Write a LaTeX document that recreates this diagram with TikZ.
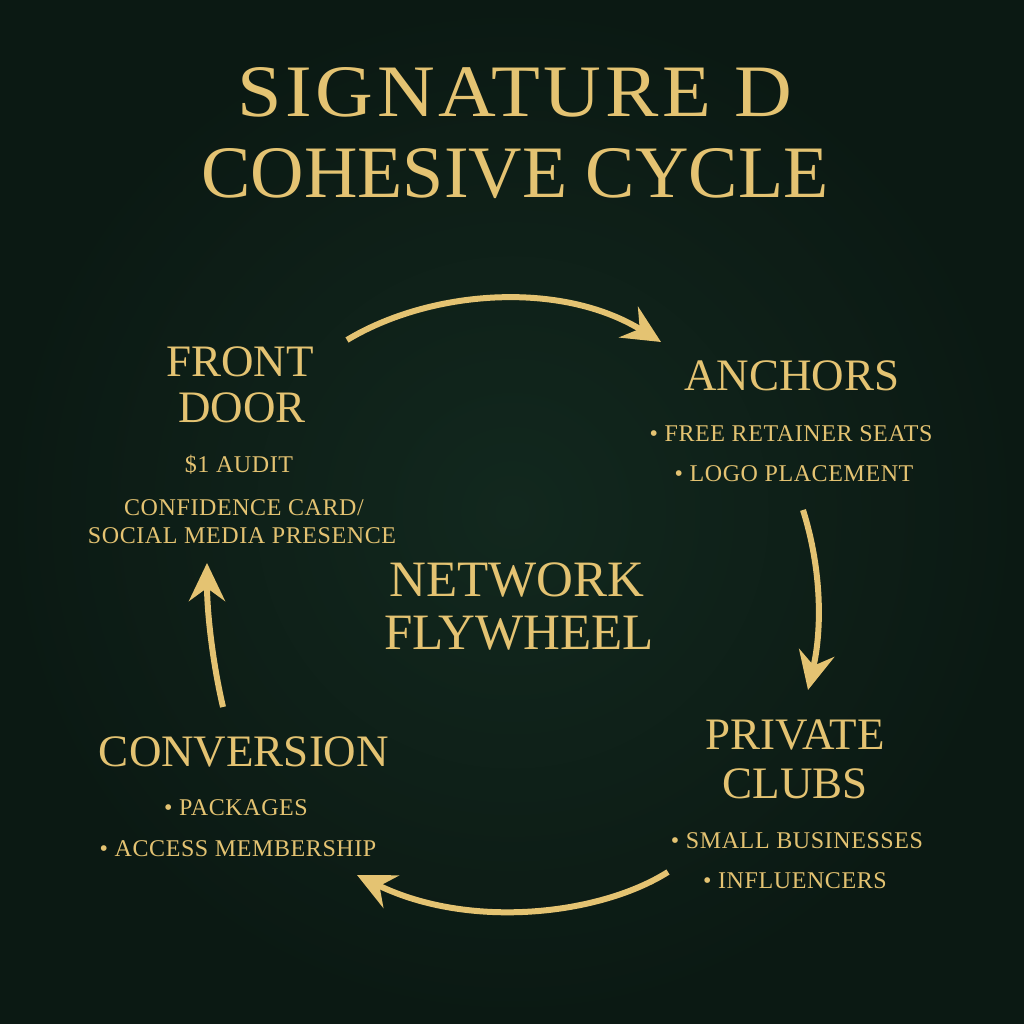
\documentclass[tikz,border=0pt]{standalone}
\usepackage{fontspec}
\setmainfont{Liberation Serif}
\newfontfamily\widetitle[FakeStretch=1.08,LetterSpace=5]{Liberation Serif}
\newfontfamily\itemfont[LetterSpace=2.5]{Liberation Serif}
\usetikzlibrary{arrows.meta}
\definecolor{bggreen}{RGB}{18,40,30}
\definecolor{bgdark}{RGB}{11,25,19}
\definecolor{gold}{RGB}{228,195,114}

\begin{document}
\begin{tikzpicture}
[x=1pt,y=1pt,
  titledecorate/.style={anchor=base,inner sep=0pt,text=gold,font=\fontsize{74}{74}\selectfont},%
  headdecorate/.style={anchor=base,inner sep=0pt,text=gold,font=\fontsize{45}{45}\selectfont},%
  hubdecorate/.style={anchor=base,inner sep=0pt,text=gold,font=\fontsize{51}{51}\selectfont},%
  itemdecorate/.style={anchor=base,inner sep=0pt,text=gold,font=\itemfont\fontsize{24}{24}\selectfont},%
  linedecorate/.style={draw=gold,line width=6pt,-{Stealth[length=38pt,width=36pt,inset=13pt]}}]
%% background
\shade[inner color=bggreen,outer color=bgdark] (0,0) rectangle (1024,1024);
\useasboundingbox (0,0) rectangle (1024,1024);
%% title
\node (title1) at (515,907) [titledecorate] {\widetitle SIGNATURE D};
\node (title2) at (515,826) [titledecorate] {COHESIVE CYCLE};
%% stage names
\foreach \nodename/\x/\y/\words in {front/240/647/FRONT, door/242/601/DOOR,
  anchors/792/633/ANCHORS, private/795/274/PRIVATE, clubs/795/225/CLUBS,
  conversion/244/257/CONVERSION} {
  \node (\nodename) at (\x,\y) [headdecorate] {\words};
}
\foreach \nodename/\x/\y/\words in {network/517/427/NETWORK, flywheel/519/374/FLYWHEEL} {
  \node (\nodename) at (\x,\y) [hubdecorate] {\words};
}
%% stage items
\foreach \nodename/\x/\y/\words in {audit/239/551/{\$1 AUDIT},
  card/244/508/{CONFIDENCE CARD/}, social/242/480/{SOCIAL MEDIA PRESENCE},
  seats/791/582/{• FREE RETAINER SEATS}, logo/794/542/{• LOGO PLACEMENT},
  smallbiz/797/175/{• SMALL BUSINESSES}, influencers/795/135/{• INFLUENCERS},
  packages/236/208/{• PACKAGES}, access/238/167/{• ACCESS MEMBERSHIP}} {
  \node (\nodename) at (\x,\y) [itemdecorate] {\words};
}
%% arrow ends
\coordinate (frontout) at (347,684);
\coordinate (anchorsin) at (661,682);
\coordinate (anchorsout) at (803,514);
\coordinate (privatein) at (808,334);
\coordinate (privateout) at (668,152);
\coordinate (conversionin) at (357,149);
\coordinate (conversionout) at (223,317);
\coordinate (frontin) at (207,461);
%% arrows
\draw[linedecorate] (frontout) .. controls (430,734) and (560,744) .. (anchorsin);
\draw[linedecorate] (anchorsout) .. controls (822,454) and (822,394) .. (privatein);
\draw[linedecorate] (privateout) .. controls (600,109) and (470,94) .. (conversionin);
\draw[linedecorate] (conversionout) .. controls (212,364) and (207,414) .. (frontin);
\end{tikzpicture}
\end{document}
